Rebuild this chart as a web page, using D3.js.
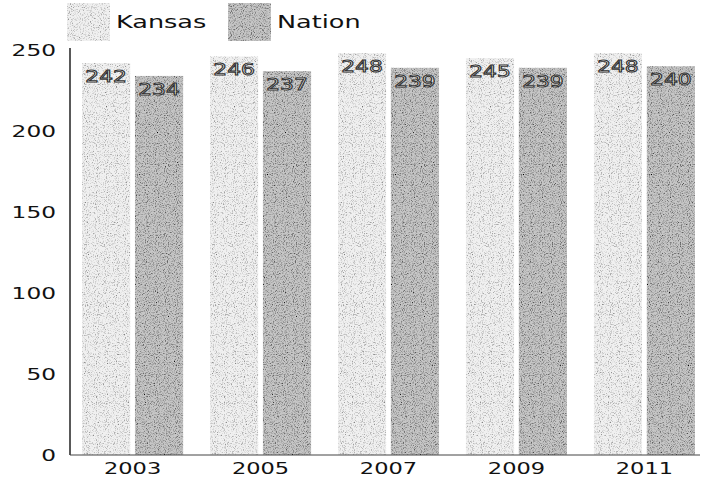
<!DOCTYPE html>
<html>
<head>
<meta charset="utf-8">
<script src="https://cdn.jsdelivr.net/npm/d3@7"></script>
<style>
  html, body { margin: 0; padding: 0; background: #fff; }
  svg { display: block; }
  text { font-family: "DejaVu Sans", sans-serif; fill: #111; }
</style>
</head>
<body>
<svg id="chart" width="702" height="481"></svg>
<script>
// Scores by assessment year
const years = ["2003", "2005", "2007", "2009", "2011"];
const seriesNames = ["Kansas", "Nation"];
const kansas = [242, 246, 248, 245, 248];
const nation = [234, 237, 239, 239, 240];
const yTicks = [0, 50, 100, 150, 200, 250];

const seriesValues = [kansas, nation];
const fills = { Kansas: "#f0f0f0", Nation: "#c6c6c6" };

const svg = d3.select("#chart");

// stipple texture for the bars
const defs = svg.append("defs");
function grain(id, seed, k, b) {
  const f = defs.append("filter").attr("id", id)
    .attr("x", 0).attr("y", 0).attr("width", 1).attr("height", 1);
  f.append("feTurbulence").attr("type", "fractalNoise")
    .attr("baseFrequency", 0.9).attr("numOctaves", 2).attr("seed", seed).attr("result", "n");
  f.append("feColorMatrix").attr("in", "n").attr("type", "matrix")
    .attr("values", `0 0 0 0 0  0 0 0 0 0  0 0 0 0 0  ${k} 0 0 0 ${b}`).attr("result", "dots");
  f.append("feComposite").attr("in", "dots").attr("in2", "SourceGraphic")
    .attr("operator", "in").attr("result", "d2");
  const m = f.append("feMerge");
  m.append("feMergeNode").attr("in", "SourceGraphic");
  m.append("feMergeNode").attr("in", "d2");
}
grain("grainKansas", 4, 2.0, -1.0);
grain("grainNation", 9, 2.4, -1.1);
const filt = { Kansas: "url(#grainKansas)", Nation: "url(#grainNation)" };

// stretch text horizontally to a wide face
function stretch(sel, factor) {
  sel.each(function () {
    const len = this.getComputedTextLength();
    d3.select(this).attr("textLength", len * factor).attr("lengthAdjust", "spacingAndGlyphs");
  });
}

const x0 = d3.scaleBand().domain(years).range([70, 707])
  .paddingInner(0.21).paddingOuter(0.094);
const x1 = d3.scaleBand().domain(seriesNames).range([0, x0.bandwidth()]).paddingInner(0.09);
const y = d3.scaleLinear().domain([0, 250]).range([455, 50]);

// bars
const groups = svg.append("g").selectAll("g").data(years).join("g")
  .attr("transform", d => `translate(${x0(d)},0)`);

groups.selectAll("rect")
  .data((d, i) => seriesNames.map((s, j) => ({ s, v: seriesValues[j][i] })))
  .join("rect")
  .attr("x", d => x1(d.s))
  .attr("y", d => y(d.v))
  .attr("width", x1.bandwidth())
  .attr("height", d => y(0) - y(d.v))
  .attr("fill", d => fills[d.s])
  .attr("filter", d => filt[d.s]);

// value labels at the top of each bar
const vl = groups.selectAll("text.val")
  .data((d, i) => seriesNames.map((s, j) => ({ s, v: seriesValues[j][i] })))
  .join("text")
  .attr("class", "val")
  .attr("x", d => x1(d.s) + x1.bandwidth() / 2)
  .attr("y", d => y(d.v) + 19)
  .attr("text-anchor", "middle")
  .style("font-size", "15px")
  .style("fill", "#ffffff")
  .style("stroke", "#333")
  .style("stroke-width", "0.9px")
  .text(d => d.v);
stretch(vl, 1.45);

// y axis
const yAxis = d3.axisLeft(y).tickValues(yTicks).tickSize(0).tickPadding(14);
const ya = svg.append("g").attr("transform", "translate(70,0)").call(yAxis);
ya.select(".domain").attr("stroke", "#222").attr("stroke-width", 1.5)
  .attr("d", `M0,${y(0)}V48`);
ya.selectAll(".tick text").style("font-size", "15px").attr("dy", "0.36em");
stretch(ya.selectAll(".tick text"), 1.55);

// x axis
const xAxis = d3.axisBottom(x0).tickSize(0).tickPadding(8);
const xa = svg.append("g").attr("transform", `translate(0,${y(0)})`).call(xAxis);
xa.select(".domain").attr("stroke", "#444").attr("stroke-width", 1.2)
  .attr("d", `M70,0H700`);
xa.selectAll(".tick text").style("font-size", "15px");
stretch(xa.selectAll(".tick text"), 1.5);

// legend
const legend = svg.append("g");
const legendX = [67, 228];
seriesNames.forEach((s, i) => {
  const g = legend.append("g").attr("transform", `translate(${legendX[i]},3)`);
  g.append("rect").attr("width", 43).attr("height", 38)
    .attr("fill", fills[s]).attr("filter", filt[s]);
  const t = g.append("text").attr("x", 49).attr("y", 19).attr("dy", "0.36em")
    .style("font-size", "17px").text(s);
  stretch(t, 1.5);
});
</script>
</body>
</html>
